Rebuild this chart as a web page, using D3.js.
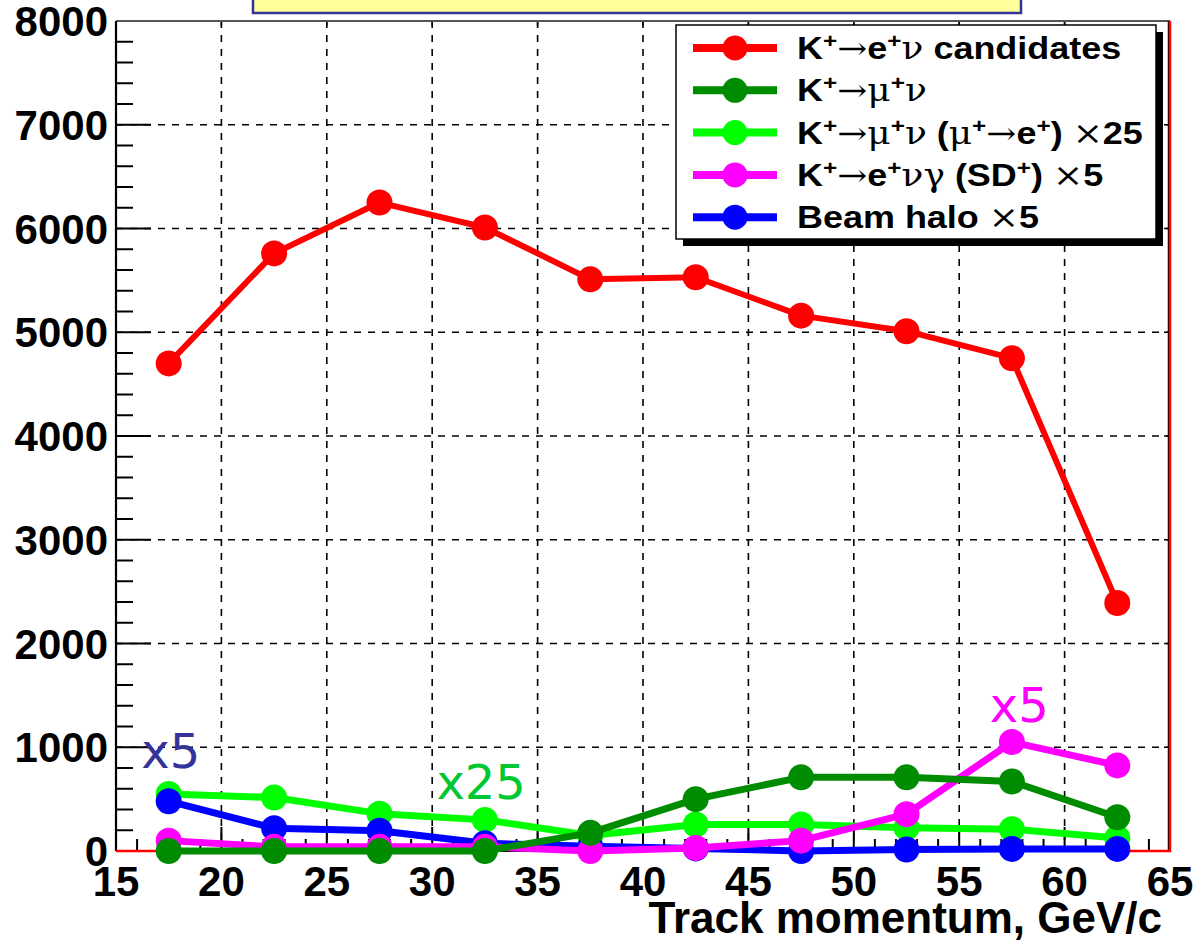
<!DOCTYPE html>
<html>
<head>
<meta charset="utf-8">
<script src="https://cdn.jsdelivr.net/npm/d3@7"></script>
<style>
  html, body { margin: 0; padding: 0; background: #fff; }
  svg { display: block; }
</style>
</head>
<body>
<svg id="chart" width="1200" height="941"></svg>
<script>
// ---------------- data ----------------
const momentum = [17.5, 22.5, 27.5, 32.5, 37.5, 42.5, 47.5, 52.5, 57.5, 62.5];
const candidates = [4700, 5760, 6250, 6010, 5510, 5530, 5160, 5010, 4750, 2390];
const kmu = [0, 0, 0, 0, 175, 500, 710, 710, 670, 325];
const kmuDecay = [550, 515, 360, 300, 150, 255, 255, 225, 210, 125];
const ke2g = [100, 40, 40, 40, 0, 30, 100, 355, 1050, 825];
const halo = [480, 220, 195, 75, 45, 25, 0, 15, 20, 20];
const xTicks = [15, 20, 25, 30, 35, 40, 45, 50, 55, 60, 65];
const yTicks = [0, 1000, 2000, 3000, 4000, 5000, 6000, 7000, 8000];
const redEdgeLeft = [[15, 0], [17.5, 0]];
const redEdgeRight = [[62.5, 0], [65, 0], [65, 8000]];
const seriesNames = ["candidates", "kmu", "kmuDecay", "ke2g", "halo"];
const seriesColors = ["#ff0000", "#008c00", "#00ff00", "#ff00ff", "#0000ff"];
const annotations = [
  {text: "x5", x: 16.2, y: 800, color: "#333399"},
  {text: "x25", x: 30.2, y: 500, color: "#00c832"},
  {text: "x5", x: 56.45, y: 1240, color: "#ff00ff"}
];
// legend label pieces: [text, kind]  kind: "b" bold, "s" symbol, "u" superscript
const legendLabels = [
  [["K","b"],["+","u"],["\u2192","s"],["e","b"],["+","u"],["\u03bd","s"],[" candidates","b"]],
  [["K","b"],["+","u"],["\u2192","s"],["\u03bc","s"],["+","u"],["\u03bd","s"]],
  [["K","b"],["+","u"],["\u2192","s"],["\u03bc","s"],["+","u"],["\u03bd","s"],[" (","b"],["\u03bc","s"],["+","u"],["\u2192","s"],["e","b"],["+","u"],[") ","b"],["\u00d7","s"],["25","b"]],
  [["K","b"],["+","u"],["\u2192","s"],["e","b"],["+","u"],["\u03bd\u03b3","s"],[" (SD","b"],["+","u"],[") ","b"],["\u00d7","s"],["5","b"]],
  [["Beam halo ","b"],["\u00d7","s"],["5","b"]]
];

// ---------------- drawing ----------------
const svg = d3.select("#chart");
const W = 1200, H = 941;
svg.append("rect").attr("width", W).attr("height", H).attr("fill", "#fff");

const x = d3.scaleLinear().domain([15, 65]).range([116, 1170]);
const y = d3.scaleLinear().domain([0, 8000]).range([851, 21]);

// header box (cut at top)
svg.append("rect")
  .attr("x", 253).attr("y", -3).attr("width", 768).attr("height", 16)
  .attr("fill", "#ffff9c").attr("stroke", "#333399").attr("stroke-width", 2.5);

// grid
const grid = svg.append("g").attr("stroke", "#000").attr("stroke-width", 1.6)
  .attr("stroke-dasharray", "7,7").attr("fill", "none");
xTicks.slice(1, -1).forEach(t => {
  grid.append("line").attr("x1", x(t)).attr("x2", x(t)).attr("y1", y(8000)).attr("y2", y(0));
});
yTicks.slice(1, -1).forEach(t => {
  grid.append("line").attr("x1", x(15)).attr("x2", x(65)).attr("y1", y(t)).attr("y2", y(t));
});

// ROOT-style inside ticks
const axG = svg.append("g").attr("stroke", "#000");
d3.range(0, 8001, 200).forEach(v => {
  const major = v % 1000 === 0;
  axG.append("line").attr("x1", x(15)).attr("x2", x(15) + (major ? 35 : 17))
    .attr("y1", y(v)).attr("y2", y(v)).attr("stroke-width", 2);
});
d3.range(15, 65.01, 1).forEach(v => {
  const major = v % 5 === 0;
  axG.append("line").attr("x1", x(v)).attr("x2", x(v))
    .attr("y1", y(0)).attr("y2", y(0) - (major ? 24 : 12)).attr("stroke-width", 2);
});
xTicks.forEach(v => {
  axG.append("line").attr("x1", x(v)).attr("x2", x(v))
    .attr("y1", y(8000)).attr("y2", y(8000) + 5).attr("stroke-width", 1.5);
});
yTicks.forEach(v => {
  axG.append("line").attr("x1", x(65)).attr("x2", x(65) - 6)
    .attr("y1", y(v)).attr("y2", y(v)).attr("stroke-width", 1.5);
});

// frame
svg.append("line").attr("x1", x(15)).attr("x2", x(65)).attr("y1", y(8000)).attr("y2", y(8000))
  .attr("stroke", "#555").attr("stroke-width", 2);
svg.append("line").attr("x1", x(15)).attr("x2", x(15)).attr("y1", y(8000)).attr("y2", y(0))
  .attr("stroke", "#000").attr("stroke-width", 2.2);
svg.append("line").attr("x1", x(15)).attr("x2", x(65)).attr("y1", y(0)).attr("y2", y(0))
  .attr("stroke", "#000").attr("stroke-width", 2.2);
svg.append("line").attr("x1", x(65) - 1.5).attr("x2", x(65) - 1.5).attr("y1", y(8000)).attr("y2", y(0))
  .attr("stroke", "#000").attr("stroke-width", 1.5);

// red histogram edges
const edgeLine = d3.line().x(d => x(d[0])).y(d => y(d[1]));
[redEdgeLeft, redEdgeRight].forEach(pts => {
  svg.append("path").attr("d", edgeLine(pts)).attr("fill", "none")
    .attr("stroke", "#ff0000").attr("stroke-width", 2.5);
});

// tick labels
const lblFont = "'Liberation Sans', Arial, sans-serif";
svg.append("g").selectAll("text").data(yTicks).join("text")
  .attr("x", 108).attr("y", d => y(d)).attr("dy", "0.36em")
  .attr("text-anchor", "end").attr("font-family", lblFont).attr("font-weight", "bold")
  .attr("font-size", 42).attr("fill", "#000").text(d => d);
svg.append("g").selectAll("text").data(xTicks).join("text")
  .attr("x", d => x(d)).attr("y", 896)
  .attr("text-anchor", "middle").attr("font-family", lblFont).attr("font-weight", "bold")
  .attr("font-size", 42).attr("fill", "#000").text(d => d);
svg.append("text").attr("x", 1162).attr("y", 933).attr("text-anchor", "end")
  .attr("font-family", lblFont).attr("font-weight", "bold").attr("font-size", 44)
  .attr("fill", "#000").text("Track momentum, GeV/c");

// series
const dataBy = {candidates, kmu, kmuDecay, ke2g, halo};
const drawOrder = [0, 2, 4, 3, 1];
const line = d3.line().x((d, i) => x(momentum[i])).y(d => y(d));
drawOrder.forEach(si => {
  const vals = dataBy[seriesNames[si]];
  const col = seriesColors[si];
  const g = svg.append("g");
  g.append("path").attr("d", line(vals)).attr("fill", "none").attr("stroke", col)
    .attr("stroke-width", si === 0 ? 6 : 7).attr("stroke-linejoin", "round");
  g.selectAll("circle").data(vals).join("circle")
    .attr("cx", (d, i) => x(momentum[i])).attr("cy", d => y(d)).attr("r", 13)
    .attr("fill", col);
});

// annotations
svg.append("g").selectAll("text").data(annotations).join("text")
  .attr("x", d => x(d.x)).attr("y", d => y(d.y))
  .attr("font-family", "'DejaVu Sans', sans-serif")
  .attr("font-size", 48).attr("fill", d => d.color).text(d => d.text);

// legend
const lg = svg.append("g");
lg.append("rect").attr("x", 683).attr("y", 32).attr("width", 480).attr("height", 214).attr("fill", "#000");
lg.append("rect").attr("x", 676).attr("y", 25).attr("width", 480).attr("height", 214)
  .attr("fill", "#fff").attr("stroke", "#000").attr("stroke-width", 1.5);
legendLabels.forEach((parts, i) => {
  const cy = 48 + i * 42.3;
  const col = seriesColors[i];
  lg.append("line").attr("x1", 693).attr("x2", 777).attr("y1", cy).attr("y2", cy)
    .attr("stroke", col).attr("stroke-width", 8);
  lg.append("circle").attr("cx", 735).attr("cy", cy).attr("r", 12.5).attr("fill", col);
  const t = lg.append("text")
    .attr("transform", `translate(797,${cy + 11}) scale(1.16,1)`)
    .attr("font-family", lblFont).attr("font-weight", "bold").attr("font-size", 31).attr("fill", "#000");
  parts.forEach(([txt, kind]) => {
    const sp = t.append("tspan").text(txt);
    if (kind === "u") {
      sp.attr("baseline-shift", "11").attr("font-size", 21);
    } else if (kind === "s") {
      sp.attr("font-family", "'DejaVu Serif', 'Liberation Serif', serif").attr("font-weight", "normal");
    }
  });
});
</script>
</body>
</html>
